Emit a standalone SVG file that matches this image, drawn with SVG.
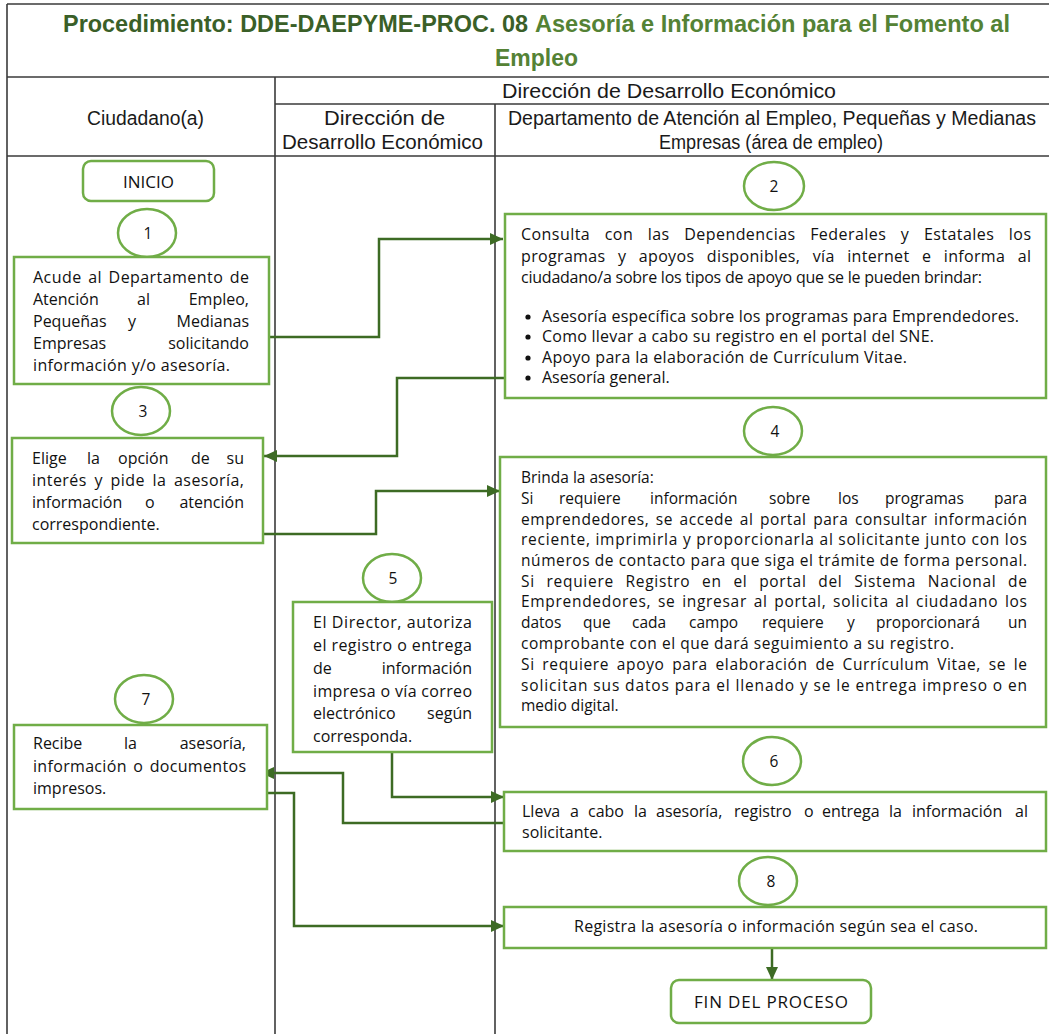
<svg xmlns="http://www.w3.org/2000/svg" width="1049" height="1034" viewBox="0 0 1049 1034">
  <style>
    .grid { stroke: #3a3a3a; stroke-width: 1.6; fill: none; }
    .box { fill: #ffffff; stroke: #70ad47; stroke-width: 2.5; }
    .num { fill: #ffffff; stroke: #70ad47; stroke-width: 2.5; }
    .t { font-family: "Open Sans", "Noto Sans", sans-serif; font-size: 16px; fill: #111111; }
    .s { font-size: 15.5px; }
    .n { font-family: "Open Sans", "Noto Sans", sans-serif; font-size: 15.5px; fill: #111111; text-anchor: middle; }
    .term { font-family: "Open Sans", "Noto Sans", sans-serif; font-size: 17px; fill: #111111; text-anchor: middle; }
    .hd { font-family: "Liberation Sans", Arial, sans-serif; font-size: 20px; fill: #1a1a1a; }
    .ttl { font-family: "Liberation Sans", Arial, sans-serif; font-size: 24px; font-weight: bold; }
    .conn { fill: none; stroke: #3d6b24; stroke-width: 2.5; }
    .dot { fill: #111111; }
  </style>
  <defs>
    <marker id="arrow" markerUnits="userSpaceOnUse" markerWidth="14" markerHeight="12" refX="13" refY="6" orient="auto">
      <path d="M0,0 L13,6 L0,12 Z" fill="#3d6b24"/>
    </marker>
  </defs>

  <rect x="0" y="0" width="1049" height="1034" fill="#ffffff"/>

  <!-- table frame and swimlane rules -->
  <g id="table">
    <line class="grid" x1="7" y1="4" x2="1049" y2="4"/>
    <line class="grid" x1="7" y1="4" x2="7" y2="1034"/>
    <line class="grid" x1="7" y1="77" x2="1049" y2="77"/>
    <line class="grid" x1="275" y1="104" x2="1049" y2="104"/>
    <line class="grid" x1="7" y1="156" x2="1049" y2="156"/>
    <line class="grid" x1="275" y1="77" x2="275" y2="1034"/>
    <line class="grid" x1="495" y1="104" x2="495" y2="1034"/>
  </g>

  <!-- title -->
  <g id="title">
    <text class="ttl" x="63" y="32" fill="#3a5f28" textLength="465" lengthAdjust="spacingAndGlyphs">Procedimiento: DDE-DAEPYME-PROC. 08</text>
    <text class="ttl" x="535" y="32" fill="#548235" textLength="475" lengthAdjust="spacingAndGlyphs">Asesoría e Información para el Fomento al</text>
    <text class="ttl" x="495" y="66" fill="#548235" textLength="83" lengthAdjust="spacingAndGlyphs">Empleo</text>
  </g>

  <!-- lane headers -->
  <g id="headers">
    <text class="hd" x="502" y="98" textLength="334" lengthAdjust="spacingAndGlyphs">Dirección de Desarrollo Económico</text>
    <text class="hd" x="87" y="125" textLength="117" lengthAdjust="spacingAndGlyphs">Ciudadano(a)</text>
    <text class="hd" x="324" y="125" textLength="121" lengthAdjust="spacingAndGlyphs">Dirección de</text>
    <text class="hd" x="282" y="149" textLength="201" lengthAdjust="spacingAndGlyphs">Desarrollo Económico</text>
    <text class="hd" x="508" y="125" textLength="528" lengthAdjust="spacingAndGlyphs">Departamento de Atención al Empleo, Pequeñas y Medianas</text>
    <text class="hd" x="659" y="149" textLength="224" lengthAdjust="spacingAndGlyphs">Empresas (área de empleo)</text>
  </g>

  <!-- connectors -->
  <g id="connectors">
    <polyline class="conn" points="269,337 379,337 379,239 503,239" marker-end="url(#arrow)"/>
    <polyline class="conn" points="505,378 397,378 397,456 264,456" marker-end="url(#arrow)"/>
    <polyline class="conn" points="263,534 376,534 376,491 500,491" marker-end="url(#arrow)"/>
    <polyline class="conn" points="392,752 392,797 504,797" marker-end="url(#arrow)"/>
    <polyline class="conn" points="504,823 343,823 343,773 261,773" marker-end="url(#arrow)"/>
    <polyline class="conn" points="263,793 294,793 294,926 504,926" marker-end="url(#arrow)"/>
    <line class="conn" x1="772" y1="948" x2="772" y2="980" marker-end="url(#arrow)"/>
  </g>

  <!-- start -->
  <g id="inicio">
    <rect class="box" x="83" y="161" width="131" height="40" rx="8"/>
    <text class="term" x="148.5" y="188">INICIO</text>
  </g>

  <!-- step 1 -->
  <g id="step1">
    <ellipse class="num" cx="147" cy="233" rx="29" ry="24"/>
    <text class="n" x="148" y="239">1</text>
    <rect class="box" x="14" y="257" width="255" height="127"/>
    <text class="t" x="33" y="283" textLength="216" lengthAdjust="spacing" word-spacing="2">Acude al Departamento de</text>
    <text class="t" y="305"><tspan x="33">Atención</tspan><tspan x="137">al</tspan><tspan x="249" text-anchor="end">Empleo,</tspan></text>
    <text class="t" y="327"><tspan x="33">Pequeñas</tspan><tspan x="128">y</tspan><tspan x="249" text-anchor="end">Medianas</tspan></text>
    <text class="t" y="349"><tspan x="33">Empresas</tspan><tspan x="249" text-anchor="end">solicitando</tspan></text>
    <text class="t" x="33" y="371" textLength="197" lengthAdjust="spacing">información y/o asesoría.</text>
  </g>

  <!-- step 2 -->
  <g id="step2">
    <ellipse class="num" cx="774" cy="186" rx="30" ry="24"/>
    <text class="n" x="774" y="192">2</text>
    <rect class="box" x="505" y="214" width="541" height="184"/>
    <text class="t" x="521" y="240" textLength="510" lengthAdjust="spacing" word-spacing="10">Consulta con las Dependencias Federales y Estatales los</text>
    <text class="t" x="521" y="262" textLength="510" lengthAdjust="spacing" word-spacing="8">programas y apoyos disponibles, vía internet e informa al</text>
    <text class="t" x="521" y="283" textLength="461" lengthAdjust="spacing">ciudadano/a sobre los tipos de apoyo que se le pueden brindar:</text>
    <circle class="dot" cx="528" cy="317" r="2.6"/>
    <text class="t" x="542" y="322" textLength="477" lengthAdjust="spacing">Asesoría específica sobre los programas para Emprendedores.</text>
    <circle class="dot" cx="528" cy="337" r="2.6"/>
    <text class="t" x="542" y="342" textLength="392" lengthAdjust="spacing">Como llevar a cabo su registro en el portal del SNE.</text>
    <circle class="dot" cx="528" cy="358" r="2.6"/>
    <text class="t" x="542" y="363" textLength="365" lengthAdjust="spacing">Apoyo para la elaboración de Currículum Vitae.</text>
    <circle class="dot" cx="528" cy="378" r="2.6"/>
    <text class="t" x="542" y="383">Asesoría general.</text>
  </g>

  <!-- step 3 -->
  <g id="step3">
    <ellipse class="num" cx="141" cy="411" rx="29" ry="24"/>
    <text class="n" x="143" y="417">3</text>
    <rect class="box" x="12" y="438" width="251" height="105"/>
    <text class="t" y="464"><tspan x="32">Elige</tspan><tspan x="87">la</tspan><tspan x="118">opción</tspan><tspan x="191">de</tspan><tspan x="244" text-anchor="end">su</tspan></text>
    <text class="t" x="32" y="486" textLength="212" lengthAdjust="spacing" word-spacing="3">interés y pide la asesoría,</text>
    <text class="t" y="508"><tspan x="32">información</tspan><tspan x="145">o</tspan><tspan x="244" text-anchor="end">atención</tspan></text>
    <text class="t" x="32" y="530">correspondiente.</text>
  </g>

  <!-- step 4 -->
  <g id="step4">
    <ellipse class="num" cx="773" cy="431" rx="29" ry="24"/>
    <text class="n" x="775" y="437">4</text>
    <rect class="box" x="500" y="457" width="546" height="270"/>
    <text class="t s" x="521" y="483">Brinda la asesoría:</text>
    <text class="t s" y="504"><tspan x="521">Si</tspan><tspan x="559">requiere</tspan><tspan x="650">información</tspan><tspan x="769">sobre</tspan><tspan x="838">los</tspan><tspan x="885">programas</tspan><tspan x="1027" text-anchor="end">para</tspan></text>
    <text class="t s" x="521" y="525" textLength="506" lengthAdjust="spacing" word-spacing="2">emprendedores, se accede al portal para consultar información</text>
    <text class="t s" x="521" y="545" textLength="506" lengthAdjust="spacing">reciente, imprimirla y proporcionarla al solicitante junto con los</text>
    <text class="t s" x="521" y="566" textLength="506" lengthAdjust="spacing">números de contacto para que siga el trámite de forma personal.</text>
    <text class="t s" x="521" y="587" textLength="506" lengthAdjust="spacing" word-spacing="7">Si requiere Registro en el portal del Sistema Nacional de</text>
    <text class="t s" x="521" y="607" textLength="506" lengthAdjust="spacing" word-spacing="2">Emprendedores, se ingresar al portal, solicita al ciudadano los</text>
    <text class="t s" y="628"><tspan x="521">datos</tspan><tspan x="583">que</tspan><tspan x="632">cada</tspan><tspan x="689">campo</tspan><tspan x="762">requiere</tspan><tspan x="847">y</tspan><tspan x="876">proporcionará</tspan><tspan x="1027" text-anchor="end">un</tspan></text>
    <text class="t s" x="521" y="649" textLength="433" lengthAdjust="spacing">comprobante con el que dará seguimiento a su registro.</text>
    <text class="t s" x="521" y="670" textLength="506" lengthAdjust="spacing" word-spacing="3">Si requiere apoyo para elaboración de Currículum Vitae, se le</text>
    <text class="t s" x="521" y="691" textLength="506" lengthAdjust="spacing">solicitan sus datos para el llenado y se le entrega impreso o en</text>
    <text class="t s" x="521" y="711">medio digital.</text>
  </g>

  <!-- step 5 -->
  <g id="step5">
    <ellipse class="num" cx="392" cy="578" rx="29" ry="24"/>
    <text class="n" x="393" y="584">5</text>
    <rect class="box" x="293" y="602" width="199" height="150"/>
    <text class="t" x="313" y="628" textLength="159" lengthAdjust="spacing">El Director, autoriza</text>
    <text class="t" x="313" y="651" textLength="159" lengthAdjust="spacing">el registro o entrega</text>
    <text class="t" y="674"><tspan x="313">de</tspan><tspan x="472" text-anchor="end">información</tspan></text>
    <text class="t" x="313" y="697" textLength="159" lengthAdjust="spacing">impresa o vía correo</text>
    <text class="t" y="719"><tspan x="313">electrónico</tspan><tspan x="472" text-anchor="end">según</tspan></text>
    <text class="t" x="313" y="742">corresponda.</text>
  </g>

  <!-- step 6 -->
  <g id="step6">
    <ellipse class="num" cx="772" cy="761" rx="29" ry="24"/>
    <text class="n" x="774" y="767">6</text>
    <rect class="box" x="504" y="792" width="542" height="59"/>
    <text class="t" y="817"><tspan x="522">Lleva</tspan><tspan x="570">a</tspan><tspan x="588">cabo</tspan><tspan x="634">la</tspan><tspan x="656">asesoría,</tspan><tspan x="734">registro</tspan><tspan x="804">o</tspan><tspan x="822">entrega</tspan><tspan x="889">la</tspan><tspan x="912">información</tspan><tspan x="1028" text-anchor="end">al</tspan></text>
    <text class="t" x="522" y="838">solicitante.</text>
  </g>

  <!-- step 7 -->
  <g id="step7">
    <ellipse class="num" cx="144" cy="699" rx="29" ry="24"/>
    <text class="n" x="146" y="705">7</text>
    <rect class="box" x="14" y="725" width="253" height="84"/>
    <text class="t" y="749"><tspan x="33">Recibe</tspan><tspan x="124">la</tspan><tspan x="246" text-anchor="end">asesoría,</tspan></text>
    <text class="t" x="33" y="772" textLength="213" lengthAdjust="spacing" word-spacing="2">información o documentos</text>
    <text class="t" x="33" y="794">impresos.</text>
  </g>

  <!-- step 8 -->
  <g id="step8">
    <ellipse class="num" cx="768" cy="881" rx="29" ry="24"/>
    <text class="n" x="771" y="887">8</text>
    <rect class="box" x="504" y="907" width="542" height="41"/>
    <text class="t" x="574" y="932" textLength="404" lengthAdjust="spacing">Registra la asesoría o información según sea el caso.</text>
  </g>

  <!-- end -->
  <g id="fin">
    <rect class="box" x="671" y="980" width="200" height="43" rx="8"/>
    <text class="term" x="771" y="1008" textLength="154" lengthAdjust="spacing">FIN DEL PROCESO</text>
  </g>
</svg>
